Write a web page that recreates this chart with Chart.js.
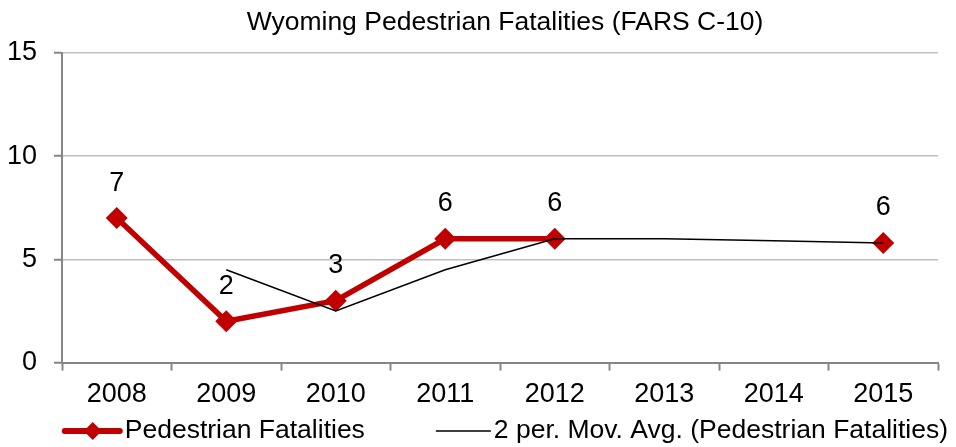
<!DOCTYPE html>
<html>
<head>
<meta charset="utf-8">
<script src="https://cdn.jsdelivr.net/npm/chart.js@4/dist/chart.umd.min.js"></script>
<style>
  html, body { margin: 0; padding: 0; background: #fff; }
  #wrap { width: 956px; height: 447px; }
</style>
</head>
<body>
<div id="wrap"><canvas id="fatalChart" width="956" height="447"></canvas></div>
<script>
// data
var years = ['2008', '2009', '2010', '2011', '2012', '2013', '2014', '2015'];
var fatalities = [7, 2, 3, 6, 6, null, null, 5.8];
var movingAvg = [null, 4.5, 2.5, 4.5, 6, 6, 5.9, 5.8];
var yTicks = [0, 5, 10, 15];

var FONT = '"Liberation Sans", Arial, sans-serif';
var RED = '#c00000';
var TITLE = 'Wyoming Pedestrian Fatalities (FARS C-10)';

// title centred over the plot area, like excel does
var plotTitle = {
    id: 'plotTitle',
    afterDraw: function(chart) {
        var ctx = chart.ctx;
        var area = chart.chartArea;
        ctx.save();
        ctx.font = '26.5px ' + FONT;
        ctx.fillStyle = '#000';
        ctx.textAlign = 'center';
        ctx.textBaseline = 'alphabetic';
        ctx.fillText(TITLE, (area.left + area.right) / 2 + 5, 30);
        ctx.restore();
    }
};

// value labels above the red points
var valueLabels = {
    id: 'valueLabels',
    afterDatasetsDraw: function(chart) {
        var ctx = chart.ctx;
        var meta = chart.getDatasetMeta(0);
        ctx.save();
        ctx.font = '27px ' + FONT;
        ctx.fillStyle = '#000';
        ctx.textAlign = 'center';
        ctx.textBaseline = 'middle';
        meta.data.forEach(function(pt, i) {
            var v = fatalities[i];
            if (v === null) return;
            ctx.fillText(String(Math.round(v)), pt.x, pt.y - 35);
        });
        ctx.restore();
    }
};

// excel style legend at the bottom (line + marker)
var bottomLegend = {
    id: 'bottomLegend',
    afterDraw: function(chart) {
        var ctx = chart.ctx;
        var y = 431;
        var names = ['Pedestrian Fatalities', '2 per. Mov. Avg. (Pedestrian Fatalities)'];
        ctx.save();
        ctx.font = '26.5px ' + FONT;
        var w0 = ctx.measureText(names[0]).width;
        var w1 = ctx.measureText(names[1]).width;
        var total = 55 + 5 + w0 + 71 + 55 + 3 + w1;
        var x = chart.width - 8 - total;

        ctx.strokeStyle = RED;
        ctx.lineWidth = 6;
        ctx.lineCap = 'round';
        ctx.beginPath();
        ctx.moveTo(x, y);
        ctx.lineTo(x + 55, y);
        ctx.stroke();
        ctx.fillStyle = RED;
        ctx.beginPath();
        ctx.moveTo(x + 28, y - 9);
        ctx.lineTo(x + 37, y);
        ctx.lineTo(x + 28, y + 9);
        ctx.lineTo(x + 19, y);
        ctx.closePath();
        ctx.fill();
        ctx.fillStyle = '#000';
        ctx.textAlign = 'left';
        ctx.textBaseline = 'middle';
        ctx.fillText(names[0], x + 60, y);

        var x2 = x + 60 + w0 + 71;
        ctx.strokeStyle = '#000';
        ctx.lineWidth = 1.5;
        ctx.lineCap = 'butt';
        ctx.beginPath();
        ctx.moveTo(x2, y);
        ctx.lineTo(x2 + 55, y);
        ctx.stroke();
        ctx.fillText(names[1], x2 + 58, y);
        ctx.restore();
    }
};

var ctx = document.getElementById('fatalChart').getContext('2d');
var fatalChart = new Chart(ctx, {
    type: 'line',
    data: {
        labels: years,
        datasets: [{
            label: 'Pedestrian Fatalities',
            data: fatalities,
            borderColor: RED,
            backgroundColor: RED,
            borderWidth: 5.5,
            pointStyle: 'rectRot',
            pointRadius: 11,
            pointBorderWidth: 0,
            pointBackgroundColor: RED,
            spanGaps: false,
            tension: 0,
            order: 1
        }, {
            label: '2 per. Mov. Avg. (Pedestrian Fatalities)',
            data: movingAvg,
            borderColor: '#000',
            borderWidth: 1.5,
            pointRadius: 0,
            tension: 0,
            order: 0
        }]
    },
    options: {
        responsive: false,
        animation: false,
        layout: {
            padding: { left: 0, right: 18, top: 53, bottom: 28 }
        },
        plugins: {
            legend: { display: false },
            tooltip: { enabled: false },
            title: { display: false }
        },
        scales: {
            x: {
                offset: true,
                grid: {
                    display: true,
                    offset: true,
                    drawOnChartArea: false,
                    drawTicks: true,
                    tickLength: 8,
                    tickColor: '#868686',
                    tickWidth: 2
                },
                border: { color: '#868686', width: 2 },
                ticks: {
                    color: '#000',
                    padding: 8,
                    font: { family: FONT, size: 27 }
                }
            },
            y: {
                min: 0,
                max: 15,
                afterFit: function(scale) { scale.width = 62; },
                afterBuildTicks: function(scale) {
                    scale.ticks = yTicks.map(function(v) { return { value: v }; });
                },
                grid: {
                    color: '#bfbfbf',
                    lineWidth: 1.5,
                    tickLength: 8,
                    tickColor: '#868686',
                    tickWidth: 2
                },
                border: { color: '#868686', width: 2 },
                ticks: {
                    color: '#000',
                    padding: 17,
                    font: { family: FONT, size: 27 }
                }
            }
        }
    },
    plugins: [plotTitle, valueLabels, bottomLegend]
});
</script>
</body>
</html>
